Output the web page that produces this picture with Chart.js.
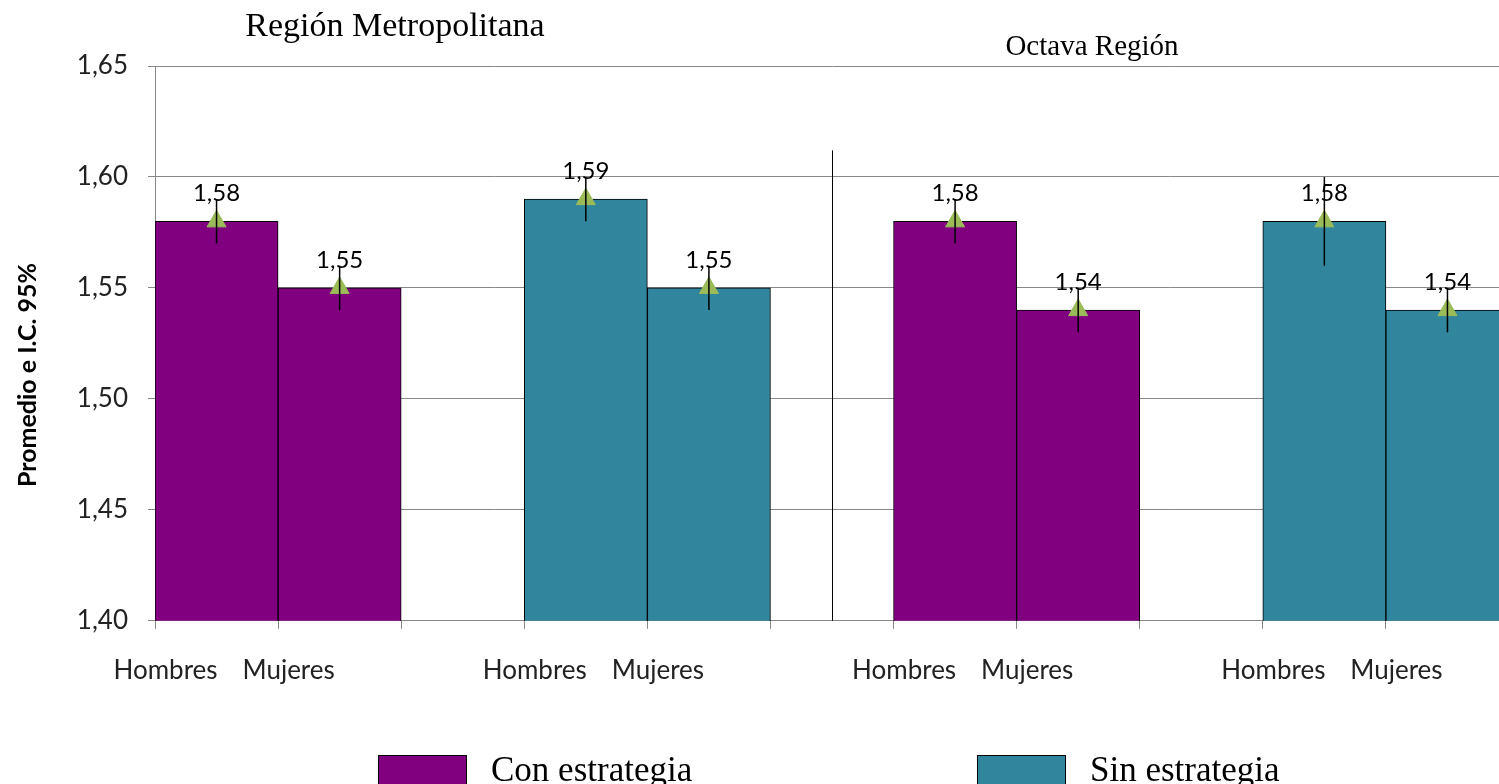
<!DOCTYPE html>
<html lang="es">
<head>
<meta charset="utf-8">
<title>Promedio e I.C. 95%</title>
<script src="https://cdn.jsdelivr.net/npm/chart.js@4.4.1/dist/chart.umd.min.js"></script>
<style>
  html, body { margin: 0; padding: 0; background: #fff; overflow: hidden; }
  #grafico { display: block; }
</style>
</head>
<body>
<canvas id="grafico" width="1521" height="784"></canvas>
<script>
// categorias del eje x (los huecos separan los grupos)
const categorias = ['Hombres', 'Mujeres', '', 'Hombres', 'Mujeres', '', 'Hombres', 'Mujeres', '', 'Hombres', 'Mujeres'];
const conEstrategia = [1.58, 1.55, null, null, null, null, 1.58, 1.54, null, null, null];
const sinEstrategia = [null, null, null, 1.59, 1.55, null, null, null, null, 1.58, 1.54];
const icBajo = [1.57, 1.54, null, 1.58, 1.54, null, 1.57, 1.53, null, 1.56, 1.53];
const icAlto = [1.59, 1.56, null, 1.60, 1.56, null, 1.59, 1.55, null, 1.60, 1.55];
const promedios = conEstrategia.map((v, i) => (v != null ? v : sinEstrategia[i]));
const regiones = ['Región Metropolitana', 'Octava Región'];

const MORADO = '#800080';
const AZUL = '#31859C';
const VERDE = '#9BBB59';

const fmt = (v) => Number(v).toFixed(2).replace('.', ',');

const anotaciones = {
  id: 'anotaciones',
  afterDatasetsDraw(chart) {
    const { ctx, scales: { x, y } } = chart;
    ctx.save();
    // linea separadora entre regiones
    ctx.strokeStyle = '#000';
    ctx.lineWidth = 1;
    const sx = Math.round(x.getPixelForValue(5)) + 0.5;
    ctx.beginPath();
    ctx.moveTo(sx, y.getPixelForValue(1.612));
    ctx.lineTo(sx, y.getPixelForValue(1.40));
    ctx.stroke();

    // intervalos de confianza y etiquetas
    ctx.lineWidth = 1.5;
    ctx.fillStyle = '#000';
    ctx.font = '24px Lato';
    ctx.textAlign = 'center';
    ctx.textBaseline = 'middle';
    promedios.forEach((v, i) => {
      if (v == null) return;
      const px = x.getPixelForValue(i);
      ctx.beginPath();
      ctx.moveTo(px, y.getPixelForValue(icAlto[i]));
      ctx.lineTo(px, y.getPixelForValue(icBajo[i]));
      ctx.stroke();
      ctx.fillText(fmt(v), px, y.getPixelForValue(v) - 28);
    });

    // titulos de region
    ctx.textBaseline = 'alphabetic';
    ctx.font = '34px "Liberation Serif"';
    ctx.fillText(regiones[0], 395, 36);
    ctx.font = '29px "Liberation Serif"';
    ctx.fillText(regiones[1], 1092, 55);

    // titulo del eje y
    ctx.save();
    ctx.translate(28, 375);
    ctx.rotate(-Math.PI / 2);
    ctx.font = 'bold 25px Lato';
    ctx.textBaseline = 'middle';
    ctx.fillText('Promedio e I.C. 95%', 0, 0);
    ctx.restore();

    // leyenda
    const items = chart.data.datasets.filter((d) => d.type === 'bar');
    const cajas = [378, 977];
    ctx.textAlign = 'left';
    ctx.font = '35px "Liberation Serif"';
    items.forEach((d, k) => {
      ctx.fillStyle = d.backgroundColor;
      ctx.fillRect(cajas[k], 755, 88, 40);
      ctx.strokeStyle = '#000';
      ctx.lineWidth = 1;
      ctx.strokeRect(cajas[k] + 0.5, 755.5, 88, 40);
      ctx.fillStyle = '#000';
      ctx.fillText(d.label, cajas[k] + 113, 781);
    });
    ctx.restore();
  }
};

new Chart(document.getElementById('grafico'), {
  data: {
    labels: categorias,
    datasets: [
      {
        type: 'line',
        label: 'Promedio',
        data: promedios,
        showLine: false,
        pointStyle: 'triangle',
        pointRadius: 11,
        pointBackgroundColor: VERDE,
        pointBorderColor: VERDE,
        order: 0,
      },
      {
        type: 'bar',
        label: 'Con estrategia',
        data: conEstrategia,
        backgroundColor: MORADO,
        borderColor: '#000',
        borderWidth: 1,
        grouped: false,
        barPercentage: 1,
        categoryPercentage: 1,
        order: 1,
      },
      {
        type: 'bar',
        label: 'Sin estrategia',
        data: sinEstrategia,
        backgroundColor: AZUL,
        borderColor: '#000',
        borderWidth: 1,
        grouped: false,
        barPercentage: 1,
        categoryPercentage: 1,
        order: 1,
      },
    ],
  },
  options: {
    responsive: false,
    animation: false,
    layout: { padding: { top: 66, right: 0, bottom: 72, left: 0 } },
    plugins: { legend: { display: false }, tooltip: { enabled: false } },
    scales: {
      x: {
        offset: true,
        grid: { offset: true, drawOnChartArea: false, tickLength: 8, color: '#888' },
        border: { color: '#888' },
        ticks: { color: '#222', font: { family: 'Lato', size: 26 }, padding: 26, labelOffset: -51, maxRotation: 0, autoSkip: false },
      },
      y: {
        min: 1.40,
        max: 1.65,
        afterFit(scale) { scale.width = 155; },
        grid: { color: '#888', tickLength: 7 },
        border: { color: '#888' },
        ticks: { stepSize: 0.05, color: '#222', font: { family: 'Lato', size: 26 }, padding: 20, callback: (v) => fmt(v) },
      },
    },
  },
  plugins: [anotaciones],
});
</script>
</body>
</html>
